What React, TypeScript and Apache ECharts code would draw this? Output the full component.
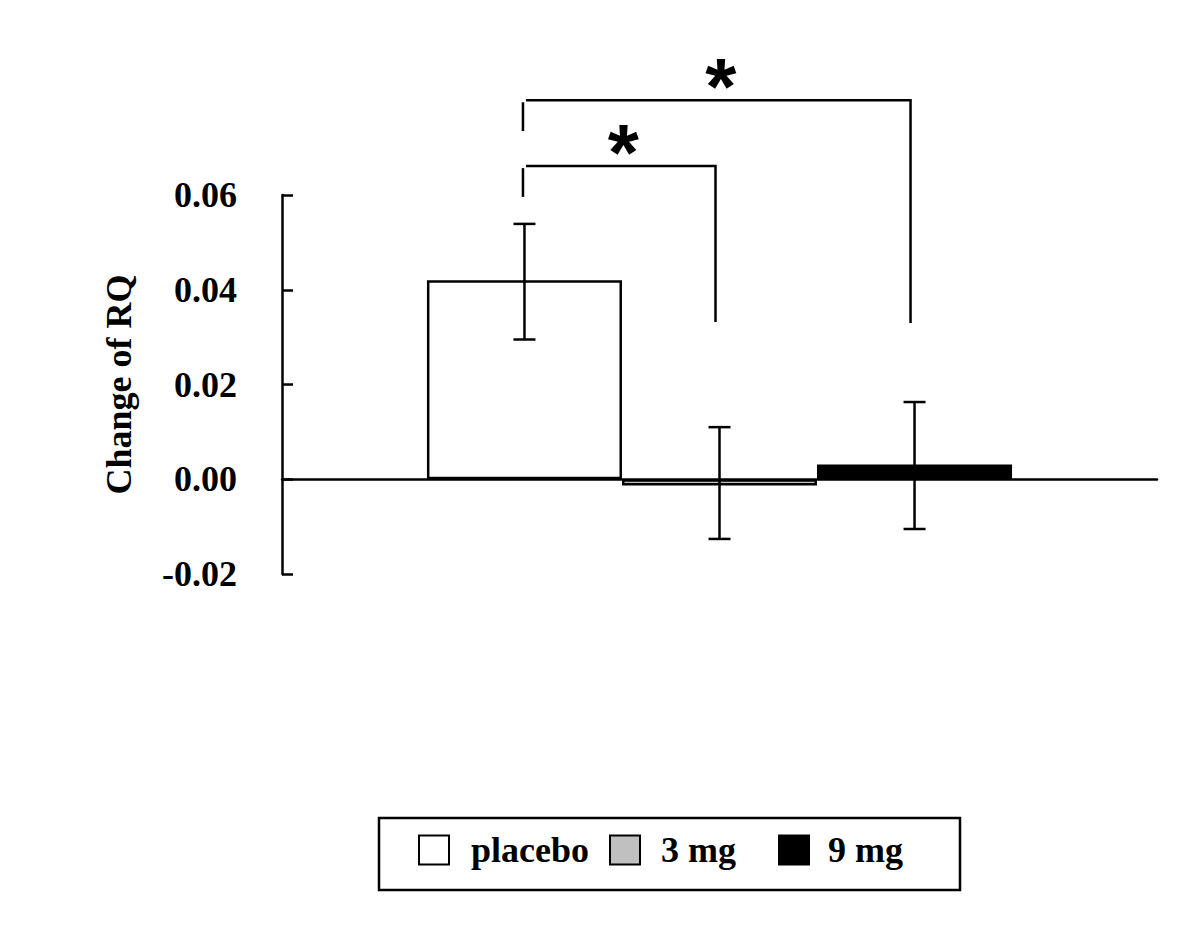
import React, { useEffect, useRef } from "react";
import * as echarts from "echarts";

// ---- data ----
const categories = ["placebo", "3 mg", "9 mg"];
const means = [0.042, -0.0013, 0.0031];
const errHigh = [0.0539, 0.011, 0.0163];
const errLow = [0.0295, -0.0126, -0.0105];
const fills = ["#ffffff", "#c0c0c0", "#000000"];
const yTicks = [-0.02, 0.0, 0.02, 0.04, 0.06];
// significance brackets: [fromGroup, toGroup, level, leftEnd, rightEnd]
const bracketFrom = [0, 0];
const bracketTo = [1, 2];
const bracketLevel = [0.0661, 0.08];
const bracketLeftEnd = [0.0596, 0.0735];
const bracketRightEnd = [0.0332, 0.033];
const bracketLabel = ["*", "*"];

const SERIF = "'Liberation Serif', 'Times New Roman', serif";
const BAR_FRACTION = 0.2229;
const LW = 2.5;

function groupCenter(api: any, i: number) {
  const cx = api.coord([0, 0])[0];
  const band = api.size([1, 0])[0];
  const bw = band * BAR_FRACTION;
  return cx + (i - (categories.length - 1) / 2) * bw;
}

export default function App() {
  const ref = useRef<HTMLDivElement>(null);
  useEffect(() => {
    document.body.style.margin = "0";
    if (!ref.current) return;
    const chart = echarts.init(ref.current, null, { renderer: "svg" });

    const barSeries = categories.map((name, i) => ({
      name,
      type: "bar",
      barWidth: (BAR_FRACTION * 100).toFixed(2) + "%",
      barGap: "0%",
      data: [means[i]],
      itemStyle: { color: fills[i], borderColor: "#000", borderWidth: LW },
      z: 2,
    }));

    const errorData = categories.map((_, i) => [0, errLow[i], errHigh[i], i]);
    const bracketData = bracketFrom.map((f, k) => [
      0,
      bracketLevel[k],
      f,
      bracketTo[k],
      bracketLeftEnd[k],
      bracketRightEnd[k],
      k,
    ]);

    const legendBase = {
      top: 832,
      padding: 0,
      icon: "rect",
      itemWidth: 30,
      itemHeight: 29,
      itemGap: 20,
      selectedMode: false,
      textStyle: { fontSize: 36, fontWeight: "bold", fontFamily: SERIF, color: "#000" },
    };

    const option: any = {
      animation: false,
      backgroundColor: "#ffffff",
      grid: { left: 282, right: 43, top: 195, bottom: 949 - 574 },
      xAxis: {
        type: "category",
        data: ["RQ"],
        axisLine: { lineStyle: { color: "#000", width: LW } },
        axisTick: { show: false },
        axisLabel: { show: false },
        splitLine: { show: false },
      },
      yAxis: {
        type: "value",
        min: yTicks[0],
        max: yTicks[yTicks.length - 1],
        interval: 0.02,
        name: "Change of RQ",
        nameLocation: "middle",
        nameRotate: 90,
        nameGap: 145,
        nameTextStyle: { fontSize: 36, fontWeight: "bold", fontFamily: SERIF, color: "#000" },
        axisLine: { show: true, lineStyle: { color: "#000", width: LW } },
        axisTick: { show: true, inside: true, length: 11, lineStyle: { color: "#000", width: LW } },
        axisLabel: {
          margin: 45,
          fontSize: 36,
          fontWeight: "bold",
          fontFamily: SERIF,
          color: "#000",
          formatter: (v: number) => v.toFixed(2),
        },
        splitLine: { show: false },
      },
      legend: [
        {
          ...legendBase,
          left: 418,
          data: [
            { name: categories[0], textStyle: { padding: [0, 0, 0, 17] } },
            { name: categories[1], textStyle: { padding: [0, 0, 0, 16] } },
          ],
        },
        {
          ...legendBase,
          left: 778,
          data: [{ name: categories[2], textStyle: { padding: [0, 0, 0, 14] } }],
        },
      ],
      graphic: [
        {
          type: "rect",
          shape: { x: 379, y: 818, width: 581, height: 72 },
          style: { fill: "none", stroke: "#000", lineWidth: LW },
        },
      ],
      series: [
        ...barSeries,
        {
          type: "custom",
          name: "error",
          clip: false,
          z: 5,
          encode: { x: 0, y: [1, 2] },
          data: errorData,
          renderItem: (params: any, api: any) => {
            const i = api.value(3);
            const x = groupCenter(api, i);
            const yLo = api.coord([0, api.value(1)])[1];
            const yHi = api.coord([0, api.value(2)])[1];
            const cap = 11;
            const st = { stroke: "#000", lineWidth: LW };
            return {
              type: "group",
              children: [
                { type: "line", shape: { x1: x, y1: yLo, x2: x, y2: yHi }, style: st },
                { type: "line", shape: { x1: x - cap, y1: yHi, x2: x + cap, y2: yHi }, style: st },
                { type: "line", shape: { x1: x - cap, y1: yLo, x2: x + cap, y2: yLo }, style: st },
              ],
            };
          },
        },
        {
          type: "custom",
          name: "brackets",
          clip: false,
          z: 5,
          encode: { x: 0, y: 1 },
          data: bracketData,
          renderItem: (params: any, api: any) => {
            const f = api.value(2);
            const t = api.value(3);
            const k = api.value(6);
            const x1 = groupCenter(api, f) - 1.5;
            const x2 = groupCenter(api, t) - 4;
            const yL = api.coord([0, api.value(1)])[1];
            const yA = api.coord([0, api.value(4)])[1];
            const yB = api.coord([0, api.value(5)])[1];
            const st = { stroke: "#000", lineWidth: LW, fill: "none" };
            return {
              type: "group",
              children: [
                { type: "line", shape: { x1: x1, y1: yA, x2: x1, y2: yL + 2 }, style: st },
                {
                  type: "polyline",
                  shape: { points: [[x1 + 3, yL], [x2, yL], [x2, yB]] },
                  style: st,
                },
                {
                  type: "text",
                  x: (x1 + x2) / 2 + 4,
                  y: yL - 14,
                  style: {
                    text: bracketLabel[k],
                    fontSize: 80,
                    fontWeight: "bold",
                    fontFamily: "'Liberation Sans', Arial, sans-serif",
                    fill: "#000",
                    align: "center",
                    verticalAlign: "middle",
                  },
                },
              ],
            };
          },
        },
      ],
    };
    chart.setOption(option);
    return () => chart.dispose();
  }, []);
  return <div ref={ref} style={{ width: 1200, height: 949, display: "block" }} />;
}
